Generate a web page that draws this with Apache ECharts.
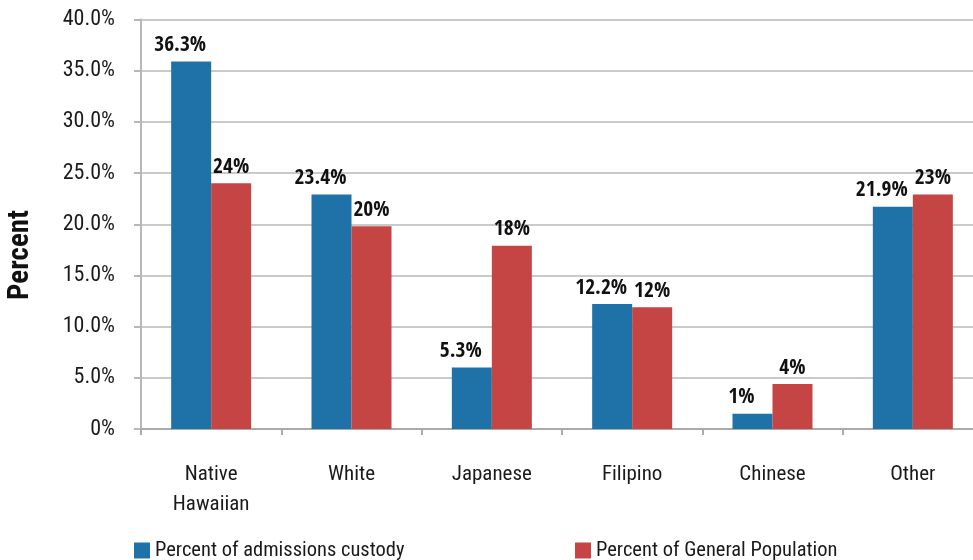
<!DOCTYPE html>
<html>
<head>
<meta charset="utf-8">
<script src="https://cdn.jsdelivr.net/npm/echarts@6/dist/echarts.min.js"></script>
<style>
html,body{margin:0;padding:0;background:#fff;}
#chart{width:973px;height:560px;}
</style>
</head>
<body>
<div id="chart"></div>
<script>
const categories = ['Native\nHawaiian', 'White', 'Japanese', 'Filipino', 'Chinese', 'Other'];
const custodyValues = [35.9, 22.9, 6.0, 12.2, 1.5, 21.7];
const custodyLabels = ['36.3%', '23.4%', '5.3%', '12.2%', '1%', '21.9%'];
const populationValues = [24.0, 19.8, 17.9, 11.9, 4.4, 22.9];
const populationLabels = ['24%', '20%', '18%', '12%', '4%', '23%'];
const seriesNames = ['Percent of admissions custody', 'Percent of General Population'];
const yTicks = [0, 5, 10, 15, 20, 25, 30, 35, 40];
const yAxisTitle = 'Percent';

const FONT = '"Roboto Condensed", "Open Sans Condensed", sans-serif';
const BOLD_FONT = '"Open Sans Condensed", "Roboto Condensed", sans-serif';
const BLUE = '#1f72a8';
const RED = '#c44543';

const chart = echarts.init(document.getElementById('chart'), null, {renderer: 'canvas'});
const option = {
  animation: false,
  textStyle: {fontFamily: FONT},
  grid: {left: 141, top: 19.5, width: 842, bottom: 131, containLabel: false, outerBoundsMode: 'none'},
  graphic: [{
    type: 'text', x: 21, y: 255, rotation: Math.PI / 2,
    style: {text: yAxisTitle, fontFamily: FONT, fontSize: 29, fontWeight: 'bold',
            fill: '#111', align: 'center', verticalAlign: 'middle'}
  }],
  legend: [
    {data: [seriesNames[0]], left: 134, top: 540, itemWidth: 16, itemHeight: 16, padding: 0,
     icon: 'rect', textStyle: {fontFamily: FONT, fontSize: 20.5, color: '#1a1a1a'}},
    {data: [seriesNames[1]], left: 575, top: 540, itemWidth: 16, itemHeight: 16, padding: 0,
     icon: 'rect', textStyle: {fontFamily: FONT, fontSize: 20.5, color: '#1a1a1a'}}
  ],
  xAxis: {
    type: 'category',
    data: categories,
    boundaryGap: true,
    axisLine: {show: true, lineStyle: {color: '#aaaaaa', width: 2}},
    axisTick: {show: true, length: 6, lineStyle: {color: '#aaaaaa', width: 2}},
    axisLabel: {fontFamily: FONT, fontSize: 21, color: '#1a1a1a', margin: 31, lineHeight: 30}
  },
  yAxis: {
    type: 'value',
    min: yTicks[0],
    max: yTicks[yTicks.length - 1],
    interval: 5,
    axisLine: {show: true, lineStyle: {color: '#b8b8b8', width: 2}},
    axisTick: {show: true, length: 7, lineStyle: {color: '#b8b8b8', width: 2}},
    splitLine: {show: true, lineStyle: {color: '#b8b8b8', width: 1.5}},
    axisLabel: {
      fontFamily: FONT, fontSize: 22, color: '#1a1a1a', margin: 26,
      formatter: v => v === 0 ? '0%' : v.toFixed(1) + '%'
    }
  },
  series: [
    {
      name: seriesNames[0],
      type: 'bar',
      data: custodyValues,
      barWidth: 40,
      barGap: '0%',
      itemStyle: {color: BLUE},
      label: {
        show: true, position: 'top', distance: 5, offset: [-11, 0],
        fontFamily: BOLD_FONT, fontSize: 21.5, fontWeight: 'bold', color: '#111',
        formatter: p => custodyLabels[p.dataIndex]
      }
    },
    {
      name: seriesNames[1],
      type: 'bar',
      data: populationValues,
      barWidth: 40,
      barGap: '0%',
      itemStyle: {color: RED},
      label: {
        show: true, position: 'top', distance: 5,
        fontFamily: BOLD_FONT, fontSize: 21.5, fontWeight: 'bold', color: '#111',
        formatter: p => populationLabels[p.dataIndex]
      }
    }
  ]
};
chart.setOption(option);
</script>
</body>
</html>
